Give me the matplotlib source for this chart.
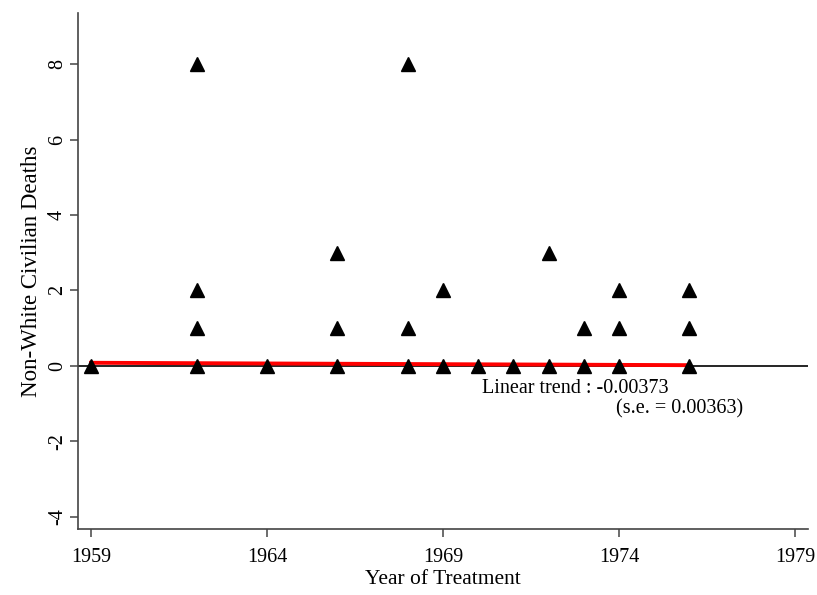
import numpy as np
import matplotlib.pyplot as plt

plt.rcParams['font.family'] = ['Liberation Serif', 'DejaVu Serif']
plt.rcParams['axes.unicode_minus'] = False

# treatment year and non-white civilian deaths per event
years = [1959, 1962, 1962, 1962, 1962, 1964, 1966, 1966, 1966,
         1968, 1968, 1968, 1969, 1969, 1970, 1971, 1972, 1972,
         1973, 1973, 1974, 1974, 1974, 1976, 1976, 1976]
deaths = [0, 8, 2, 1, 0, 0, 3, 1, 0,
          8, 1, 0, 2, 0, 0, 0, 3, 0,
          1, 0, 2, 1, 0, 2, 1, 0]

# fitted linear trend
trend_years = [1959, 1976]
trend_start = 0.08
trend_slope = -0.00373
trend_se = 0.00363

xticks = [1959, 1964, 1969, 1974, 1979]
yticks = [-4, -2, 0, 2, 4, 6, 8]

fig = plt.figure(figsize=(8.17, 5.95), dpi=100)
ax = fig.add_axes([78 / 817, 66 / 595, 730 / 817, 516 / 595])

ax.axhline(0, color='black', lw=1.2, zorder=1)
ty = np.array(trend_years)
ax.plot(ty, trend_start + trend_slope * (ty - ty[0]), color='red', lw=2.8, zorder=2)
ax.plot(years, deaths, '^', color='black', markersize=9.5, zorder=3)

ax.set_xlim(1958.63, 1979.37)
ax.set_ylim(-4.33, 9.36)
ax.set_xticks(xticks)
ax.set_yticks(yticks)
for lab in ax.get_yticklabels():
    lab.set_rotation(90)
    lab.set_va('center')

for s in ['top', 'right']:
    ax.spines[s].set_visible(False)
for s in ['left', 'bottom']:
    ax.spines[s].set_color('#444444')
    ax.spines[s].set_linewidth(1.2)
ax.tick_params(direction='out', length=6, width=1.1, color='#444444',
               labelsize=14.5)
ax.tick_params(axis='x', pad=8)
ax.tick_params(axis='y', pad=2)

ax.set_xlabel('Year of Treatment', fontsize=15.5, labelpad=2)
ax.set_ylabel('Non-White Civilian Deaths', fontsize=16.5, labelpad=4)

ax.text(1970.1, -0.6, 'Linear trend : %.5f' % trend_slope, fontsize=14.5,
        ha='left', va='center')
ax.text(1977.52, -1.13, '(s.e. = %.5f)' % trend_se, fontsize=14.5,
        ha='right', va='center')

fig.savefig('out.png', dpi=100, facecolor='white')
